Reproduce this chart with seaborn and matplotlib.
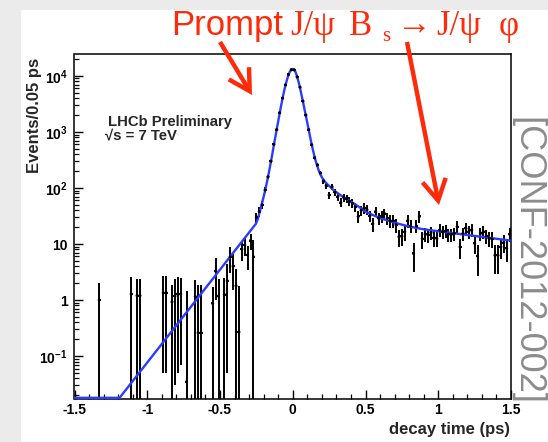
import numpy as np
import pandas as pd
import matplotlib
matplotlib.use("Agg")
import matplotlib.pyplot as plt
import seaborn as sns
from matplotlib.patches import Rectangle, FancyArrowPatch
from matplotlib.ticker import FixedLocator, MultipleLocator, LogLocator, NullFormatter

# ---------------- data ----------------
time_bins = [-1.33, -1.11, -1.07, -1.05, -0.89, -0.87, -0.83, -0.81, -0.79, -0.77,
             -0.73, -0.67, -0.65, -0.63, -0.55, -0.53, -0.51, -0.47, -0.45, -0.43,
             -0.41, -0.39, -0.37, -0.35, -0.33, -0.31, -0.29, -0.27, -0.25, -0.23,
             -0.21, -0.19, -0.17, -0.15, -0.13, -0.11, -0.09, -0.07, -0.05, -0.03,
             -0.01, 0.01, 0.03, 0.05, 0.07, 0.09, 0.11, 0.13, 0.15, 0.17,
             0.19, 0.21, 0.23, 0.25, 0.27, 0.29, 0.31, 0.33, 0.35, 0.37,
             0.39, 0.41, 0.43, 0.45, 0.47, 0.49, 0.51, 0.53, 0.55, 0.57,
             0.59, 0.61, 0.63, 0.65, 0.67, 0.69, 0.71, 0.73, 0.75, 0.77,
             0.79, 0.81, 0.83, 0.85, 0.87, 0.89, 0.91, 0.93, 0.95, 0.97,
             0.99, 1.01, 1.03, 1.05, 1.07, 1.09, 1.11, 1.13, 1.15, 1.17,
             1.19, 1.21, 1.23, 1.25, 1.27, 1.29, 1.31, 1.33, 1.35, 1.37,
             1.39, 1.41, 1.43, 1.45, 1.47, 1.49]
events = [1.0, 1.28, 1.2, 1.2, 1.35, 1.35, 0.93, 1.18, 1.3, 1.27,
          0.035, 1.15, 0.26, 0.26, 0.87, 3.3, 1.18, 1.25, 2.2, 5.9,
          4.0, 1.8, 0.27, 8.1, 9.6, 6.4, 11.5, 5.9, 30, 38,
          50, 92, 158, 300, 600, 1100, 2200, 4000, 6900, 10600,
          12900, 12800, 9600, 6300, 3550, 2000, 1100, 590, 345, 258,
          186, 133, 110, 75, 105, 84, 70, 55, 68, 64,
          58, 53, 46, 31, 40, 44, 41, 32, 23, 38,
          29, 31, 35, 29, 26, 26, 22, 13.5, 13.8, 16.5,
          26, 21, 6.8, 21, 31, 12.5, 15, 14.5, 16, 13,
          12.6, 17.8, 16.6, 17, 14.9, 14.9, 15.5, 20.4, 8.9, 15.5,
          19, 16.6, 17.8, 10.3, 6.1, 15.5, 16.6, 13.9, 12.6, 12.3,
          6.3, 6.3, 8.9, 10.6, 8.4, 15]
event_errors = [1.0, 1.27, 1.2, 1.2, 1.3, 1.3, 0.93, 1.15, 1.25, 1.2,
                1.43, 1.15, 1.6, 1.6, 0.87, 2.3, 1.18, 1.25, 2.15, 2.8,
                2.5, 1.8, 1.5, 3.2, 3.4, 3.0, 3.6, 5.95, 6.5, 7.5,
                8.5, 11, 14, 19, 27, 36, 50, 70, 90, 110,
                120, 120, 105, 85, 65, 48, 36, 27, 20, 18,
                15, 14, 13, 11, 13, 12, 11, 10, 11, 10,
                10, 9.5, 9, 7.5, 8.5, 9, 8.5, 7.5, 6.5, 8,
                7, 7.5, 8, 7, 6.5, 6.5, 6, 4.5, 4.5, 5,
                6.5, 5.5, 3.6, 5.5, 7.5, 4.2, 4.2, 4.0, 4.3, 4.0,
                3.8, 4.5, 4.3, 4.4, 4.0, 4.0, 4.1, 5.0, 3.5, 4.1,
                4.7, 4.3, 4.5, 3.8, 3.4, 4.1, 4.3, 4.0, 3.8, 3.8,
                3.4, 3.4, 3.6, 3.8, 3.6, 4.0]
bin_half_width = 0.01

fit_time = [-1.5, -1.19, -0.253, -0.24, -0.23, -0.22, -0.21, -0.20, -0.19, -0.18,
            -0.17, -0.16, -0.15, -0.14, -0.13, -0.12, -0.11, -0.10, -0.09, -0.08,
            -0.07, -0.06, -0.05, -0.04, -0.03, -0.02, -0.01, 0.0, 0.01, 0.02,
            0.03, 0.04, 0.05, 0.06, 0.07, 0.08, 0.09, 0.10, 0.11, 0.12,
            0.13, 0.14, 0.15, 0.16, 0.17, 0.18, 0.19, 0.20, 0.22, 0.24,
            0.26, 0.28, 0.30, 0.33, 0.36, 0.40, 0.45, 0.50, 0.55, 0.60,
            0.70, 0.80, 0.90, 1.00, 1.10, 1.20, 1.30, 1.40, 1.50]
fit_events = [0.018, 0.018, 23, 28, 35, 44, 55, 70, 90, 118,
              158, 215, 295, 410, 580, 800, 1120, 1550, 2150, 2950,
              4000, 5300, 6800, 8500, 10300, 11900, 12900, 13300, 13000, 11600,
              9700, 7800, 6100, 4600, 3500, 2600, 1950, 1450, 1080, 800,
              600, 460, 360, 290, 240, 200, 175, 155, 130, 115,
              103, 92, 84, 74, 66, 57, 47, 38, 33, 29,
              24, 20.5, 18.3, 16.9, 15.6, 14.5, 13.4, 12.4, 11.5]

x_ticks = [-1.5, -1, -0.5, 0, 0.5, 1, 1.5]
x_tick_labels = ["-1.5", "-1", "-0.5", "0", "0.5", "1", "1.5"]
y_ticks = [0.1, 1, 10, 100, 1000, 10000]
y_tick_labels = [r"$\mathbf{10^{-1}}$", "1", "10", r"$\mathbf{10^{2}}$",
                 r"$\mathbf{10^{3}}$", r"$\mathbf{10^{4}}$"]

# ---------------- style ----------------
sns.set_style("ticks")
plt.rcParams["font.family"] = ["Liberation Sans", "DejaVu Sans"]
plt.rcParams["mathtext.fontset"] = "custom"
plt.rcParams["mathtext.rm"] = "Liberation Sans"
plt.rcParams["mathtext.bf"] = "Liberation Sans:bold"
plt.rcParams["mathtext.default"] = "rm"

W, H = 548, 442
fig = plt.figure(figsize=(W / 100, H / 100), dpi=100, facecolor="#ebebeb")


def fx(px):
    return px / W


def fy(py):
    return 1 - py / H


# white canvas behind everything
fig.patches.append(Rectangle((fx(21), fy(442)), fx(548) - fx(21), fy(10) - fy(442),
                             transform=fig.transFigure, facecolor="white",
                             edgecolor="none", zorder=-10))

ax = fig.add_axes([fx(74.5), fy(398.5), fx(511) - fx(74.5), fy(54) - fy(398.5)])
ax.set_zorder(1)
ax.set_facecolor("white")

df = pd.DataFrame({"t": time_bins, "n": events, "err": event_errors})
fit_df = pd.DataFrame({"t": fit_time, "n": fit_events})

ax.set_yscale("log")
ax.errorbar(df["t"], df["n"], yerr=df["err"], xerr=bin_half_width, fmt="none",
            ecolor="black", elinewidth=1.4, capsize=0, zorder=2)
sns.lineplot(data=fit_df, x="t", y="n", color="#2a3cff", linewidth=1.7,
             estimator=None, sort=True, ax=ax, zorder=3)
sns.scatterplot(data=df, x="t", y="n", color="black", marker="o", s=5,
                edgecolor="none", ax=ax, zorder=4)

ax.set_xlim(-1.5, 1.5)
ax.set_ylim(0.0175, 24600)
ax.set_xlabel("")
ax.set_ylabel("")

ax.xaxis.set_major_locator(FixedLocator(x_ticks))
ax.set_xticklabels(x_tick_labels, fontweight="bold", fontsize=10)
ax.xaxis.set_minor_locator(MultipleLocator(0.1))
ax.yaxis.set_major_locator(FixedLocator(y_ticks))
ax.set_yticklabels(y_tick_labels, fontweight="bold", fontsize=10)
ax.yaxis.set_minor_locator(LogLocator(base=10, subs=np.arange(2, 10)))
ax.yaxis.set_minor_formatter(NullFormatter())

ax.tick_params(axis="both", which="major", direction="in", length=6.5, width=1,
               top=False, right=False, color="black", labelcolor="black")
ax.tick_params(axis="x", which="major", pad=3)
ax.tick_params(axis="y", which="major", pad=5)
ax.tick_params(axis="both", which="minor", direction="in", length=3.3, width=0.9,
               top=False, right=False, color="black")
for s in ax.spines.values():
    s.set_linewidth(1.1)
    s.set_color("black")

# axis titles
fig.text(fx(34), fy(58), "Events/0.05 ps", rotation=90, ha="center", va="top",
         fontweight="bold", fontsize=12)
fig.text(fx(510), fy(434), "decay time (ps)", ha="right", va="baseline",
         fontweight="bold", fontsize=12)

# inner labels
fig.text(fx(108), fy(126), "LHCb Preliminary", ha="left", va="baseline",
         fontweight="bold", fontsize=10.7, zorder=5)
fig.text(fx(105), fy(139), "\u221as = 7 TeV", ha="left", va="baseline",
         fontweight="bold", fontsize=10.7, zorder=5)

# red annotation title
red = "#ff2a0a"
serif = ["Liberation Serif", "DejaVu Serif"]
fig.text(fx(171), fy(35), "Prompt", ha="left", va="baseline", fontsize=25,
         color=red, family=["Liberation Sans", "DejaVu Sans"])
fig.text(fx(290), fy(35), "J/\u03c8", ha="left", va="baseline", fontsize=25,
         color=red, family=serif)
fig.text(fx(349), fy(35), "B", ha="left", va="baseline", fontsize=25,
         color=red, family=serif)
fig.text(fx(382), fy(41), "s", ha="left", va="baseline", fontsize=15,
         color=red, family=serif)
fig.text(fx(397), fy(35), "\u2192", ha="left", va="baseline", fontsize=25,
         color=red, family=serif)
fig.text(fx(436), fy(35), "J/\u03c8", ha="left", va="baseline", fontsize=25,
         color=red, family=serif)
fig.text(fx(499), fy(35), "\u03c6", ha="left", va="baseline", fontsize=25,
         color=red, family=serif)

# red arrows (drawn on top of the axes)
for (x0, y0), (x1, y1) in [((220, 42), (252, 95)), ((407, 42), (439, 205))]:
    arr = FancyArrowPatch((fx(x0), fy(y0)), (fx(x1), fy(y1)),
                          transform=fig.transFigure,
                          arrowstyle="->,head_length=1.5,head_width=0.85",
                          mutation_scale=10, color=red, lw=3.2,
                          shrinkA=0, shrinkB=0, joinstyle="miter", capstyle="butt",
                          zorder=10)
    fig.add_artist(arr)

# reference watermark
fig.text(fx(527), fy(261), "[CONF-2012-002]", rotation=-90, ha="center",
         va="center", fontsize=26, color="#8c8c8c",
         family=["Liberation Sans", "DejaVu Sans"], zorder=10)

fig.savefig("out.png", dpi=100, facecolor=fig.get_facecolor())
